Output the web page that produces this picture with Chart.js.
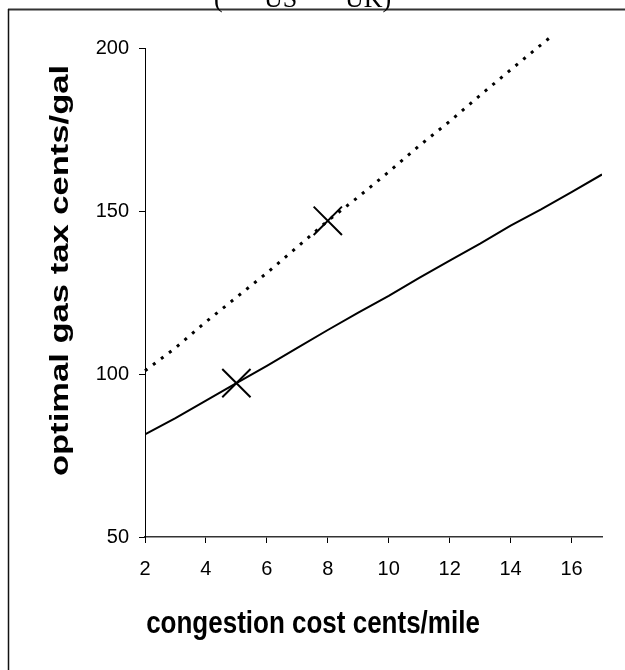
<!DOCTYPE html>
<html>
<head>
<meta charset="utf-8">
<script src="https://cdn.jsdelivr.net/npm/chart.js@4/dist/chart.umd.min.js"></script>
<style>
  body { margin: 0; background: #fff; }
  canvas { display: block; }
</style>
</head>
<body>
<canvas id="taxChart" width="625" height="670"></canvas>
<script>
// congestion cost (cents/mile) vs optimal gas tax (cents/gal)
const usCost = [2, 3, 4, 5, 6, 7, 8, 9, 10, 11, 12, 13, 14, 15, 16, 17]
const usTax = [81.5, 86.5, 91.8, 97.2, 102.5, 108, 113.5, 118.8, 124, 129.5, 134.8, 140, 145.5, 150.5, 155.8, 161.2]

const ukCost = [2, 3, 4, 5, 6, 7, 8, 9, 10, 11, 12, 13, 14, 15, 15.4]
const ukTax = [101, 108, 116, 123.5, 131, 139, 147, 154.3, 162, 170, 177.5, 185.5, 193.3, 201, 204]

// current-policy points marked with a cross
const markCost = [5, 8]
const markTax = [97.2, 147]

const xTicks = [2, 4, 6, 8, 10, 12, 14, 16]
const yTicks = [50, 100, 150, 200]

const xTitle = 'congestion cost cents/mile'
const yTitle = 'optimal gas tax cents/gal'

const toPoints = (xs, ys) => xs.map((x, i) => ({ x: x, y: ys[i] }))

// frame, the clipped key line at the top and the (stretched) axis titles
const decorations = {
    id: 'decorations',
    beforeDraw(chart) {
        const ctx = chart.ctx
        ctx.save()
        ctx.fillStyle = '#fff'
        ctx.fillRect(0, 0, chart.width, chart.height)
        ctx.strokeStyle = '#333'
        ctx.lineWidth = 2
        ctx.beginPath()
        ctx.moveTo(8, 9.5)
        ctx.lineTo(chart.width, 9.5)
        ctx.stroke()
        ctx.strokeStyle = '#111'
        ctx.lineWidth = 1.5
        ctx.beginPath()
        ctx.moveTo(8.5, 9)
        ctx.lineTo(8.5, chart.height)
        ctx.stroke()

        ctx.fillStyle = '#000'
        ctx.font = '26px "Liberation Serif"'
        ctx.textBaseline = 'alphabetic'
        ctx.textAlign = 'left'
        ctx.fillText('(', 214, 7)
        ctx.fillText('US', 264, 7)
        ctx.fillText('UK)', 345, 7)
        ctx.restore()
    },
    afterDraw(chart) {
        const ctx = chart.ctx
        const area = chart.chartArea
        ctx.save()
        ctx.fillStyle = '#000'
        ctx.font = 'bold 26px "Liberation Sans"'
        ctx.textAlign = 'center'
        ctx.textBaseline = 'alphabetic'

        ctx.save()
        ctx.translate(313, 633)
        ctx.scale(1, 1.2)
        ctx.fillText(xTitle, 0, 0)
        ctx.restore()

        ctx.save()
        ctx.translate(68, (area.top + area.bottom) / 2 - 22)
        ctx.rotate(-Math.PI / 2)
        ctx.scale(1.33, 1)
        ctx.fillText(yTitle, 0, 0)
        ctx.restore()
        ctx.restore()
    }
}

const tickFont = { family: '"Liberation Sans", Arial, sans-serif', size: 20 }

new Chart(document.getElementById('taxChart'), {
    type: 'line',
    data: {
        datasets: [
            {
                label: 'US',
                data: toPoints(usCost, usTax),
                borderColor: '#000',
                borderWidth: 2,
                pointRadius: 0,
                tension: 0
            },
            {
                label: 'UK',
                data: toPoints(ukCost, ukTax),
                borderColor: '#000',
                borderWidth: 3,
                borderDash: [3, 7],
                pointRadius: 0,
                tension: 0,
                clip: false
            },
            {
                label: 'current',
                data: toPoints(markCost, markTax),
                showLine: false,
                pointStyle: 'crossRot',
                pointRadius: 20,
                borderColor: '#000',
                borderWidth: 2
            }
        ]
    },
    options: {
        responsive: false,
        animation: false,
        layout: { padding: { left: 0, top: 48, right: 23, bottom: 0 } },
        plugins: {
            legend: { display: false },
            tooltip: { enabled: false }
        },
        scales: {
            x: {
                type: 'linear',
                min: 2,
                max: 17,
                afterBuildTicks: (s) => { s.ticks = xTicks.map(v => ({ value: v })) },
                afterFit: (s) => { s.height = 133 },
                ticks: { color: '#000', font: tickFont, padding: 14 },
                grid: { drawOnChartArea: false, tickLength: 6, color: '#000', tickWidth: 1 },
                border: { color: '#333', width: 1.5 }
            },
            y: {
                min: 50,
                max: 200,
                afterBuildTicks: (s) => { s.ticks = yTicks.map(v => ({ value: v })) },
                afterFit: (s) => { s.width = 145 },
                ticks: { color: '#000', font: tickFont, padding: 10 },
                grid: { drawOnChartArea: false, tickLength: 6, color: '#000', tickWidth: 1 },
                border: { color: '#000', width: 1 }
            }
        }
    },
    plugins: [decorations]
})
</script>
</body>
</html>
